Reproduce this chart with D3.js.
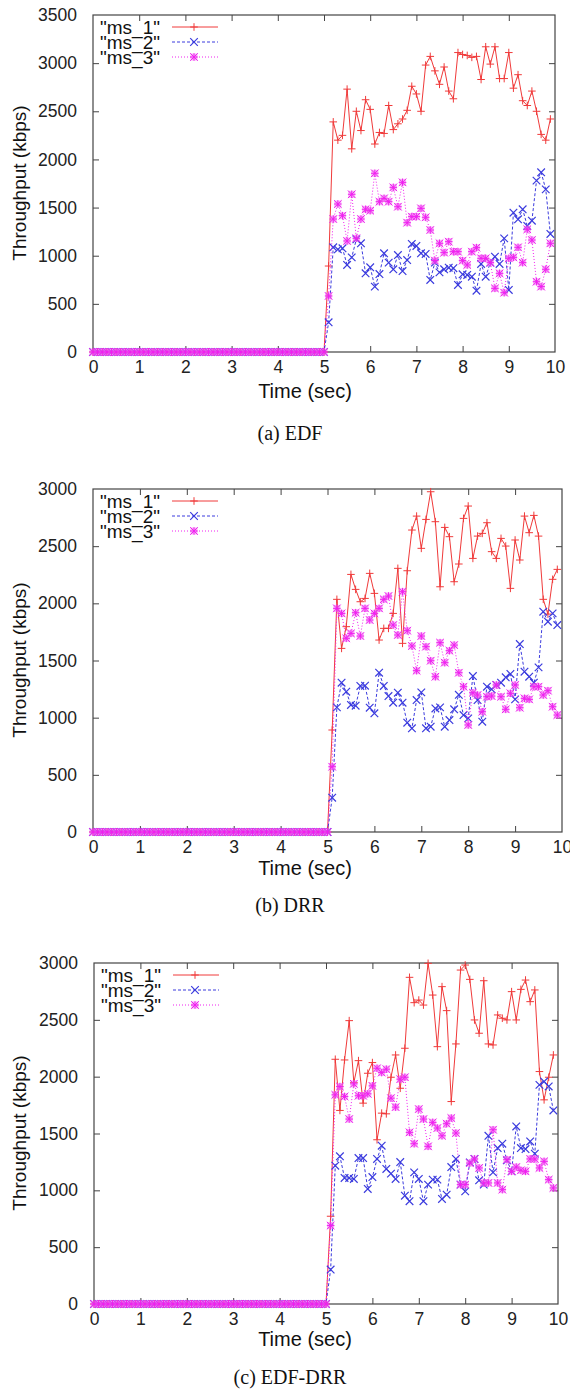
<!DOCTYPE html>
<html><head><meta charset="utf-8">
<script src="https://cdn.jsdelivr.net/npm/d3@7"></script>
<style>body{margin:0;background:#fff}svg{display:block}</style>
</head><body>
<svg id="chart" width="570" height="1394"></svg>
<script>
// ---------------- DATA ----------------
const times = [0,0.1,0.2,0.3,0.4,0.5,0.6,0.7,0.8,0.9,1,1.1,1.2,1.3,1.4,1.5,1.6,1.7,1.8,1.9,2,2.1,2.2,2.3,2.4,2.5,2.6,2.7,2.8,2.9,3,3.1,3.2,3.3,3.4,3.5,3.6,3.7,3.8,3.9,4,4.1,4.2,4.3,4.4,4.5,4.6,4.7,4.8,4.9,5,5.1,5.2,5.3,5.4,5.5,5.6,5.7,5.8,5.9,6,6.1,6.2,6.3,6.4,6.5,6.6,6.7,6.8,6.9,7,7.1,7.2,7.3,7.4,7.5,7.6,7.7,7.8,7.9,8,8.1,8.2,8.3,8.4,8.5,8.6,8.7,8.8,8.9,9,9.1,9.2,9.3,9.4,9.5,9.6,9.7,9.8,9.9];
// throughput is 0 kbps for t = 0.0 .. 5.0 (51 samples) in every series
const idle = [0,0,0,0,0,0,0,0,0,0,0,0,0,0,0,0,0,0,0,0,0,0,0,0,0,0,0,0,0,0,0,0,0,0,0,0,0,0,0,0,0,0,0,0,0,0,0,0,0,0,0];

const seriesNames = ['"ms_1"', '"ms_2"', '"ms_3"'];
const panelCaptions = ["(a)  EDF", "(b)  DRR", "(c)  EDF-DRR"];
const yMaxes = [3500, 3000, 3000];
const xTickValues = [0,1,2,3,4,5,6,7,8,9,10];
const xAxisTitle = "Time (sec)";
const yAxisTitle = "Throughput (kbps)";

const edf_ms1 = idle.concat([893,2390,2200,2250,2730,2110,2500,2300,2620,2520,2160,2280,2270,2560,2310,2370,2420,2510,2760,2680,2500,2980,3070,2920,2780,2960,2710,2630,3110,3090,3080,3060,3070,2830,3170,2990,3170,2840,2840,3110,2740,2880,2610,2560,2710,2500,2260,2200,2420]);
const edf_ms2 = idle.concat([308,1087,1066,1077,904,983,1170,1129,817,880,679,810,1025,928,859,1007,841,955,1122,1101,1025,1018,748,928,827,859,876,870,696,807,800,782,637,914,782,928,990,914,1180,644,1447,1378,1482,1309,1364,1780,1866,1689,1226]);
const edf_ms3 = idle.concat([582,1381,1537,1416,1153,1638,1181,1381,1482,1468,1856,1561,1596,1561,1710,1509,1762,1343,1406,1406,1492,1399,1267,949,1129,1032,1146,1042,1042,949,904,1042,1084,973,973,928,661,817,616,973,983,1087,928,1274,1163,730,679,859,1129]);

const drr_ms1 = idle.concat([892,2035,1606,1796,2253,2122,2014,2043,2262,2087,1679,1781,1781,1912,2306,1650,2285,2641,2763,2481,2734,2976,2714,2145,2664,2583,2189,2344,2743,2851,2393,2588,2612,2705,2452,2393,2568,2501,2131,2554,2379,2763,2618,2769,2588,2035,1906,2210,2297]);
const drr_ms2 = idle.concat([300,1090,1306,1227,1111,1105,1277,1280,1087,1038,1393,1277,1189,1131,1218,1131,956,907,1154,1221,907,921,1081,1090,921,979,1073,1200,1023,994,1364,1154,965,1271,1248,1286,1306,1353,1382,1160,1644,1402,1358,1306,1440,1927,1839,1912,1810]);
const drr_ms3 = idle.concat([571,1956,1912,1694,1737,1918,1714,1956,1854,1912,1956,2035,2064,1810,1723,2102,1761,1627,1411,1714,1621,1498,1358,1656,1481,1586,1635,1393,1271,936,1218,1198,1052,1183,1189,1286,1183,1073,1213,1286,1087,1169,1160,1271,1271,1198,1236,1096,1023]);

const edfdrr_ms1 = idle.concat([772,2153,1703,2147,2493,1948,2141,1767,2030,2124,1445,1679,1673,1995,2191,1898,2250,2874,2651,2674,2630,2997,2718,2264,2792,2581,1781,2288,2938,2982,2856,2499,2382,2844,2288,2279,2543,2514,2499,2748,2499,2768,2850,2660,2763,2045,1796,1995,2191]);
const edfdrr_ms2 = idle.concat([303,1217,1299,1109,1109,1100,1284,1284,1012,1117,1276,1393,1188,1147,1100,1249,953,904,1158,1100,904,1050,1094,1094,924,962,1205,1276,1050,991,1246,1276,1088,1050,1480,1158,1372,1410,1264,1167,1562,1372,1363,1430,1322,1928,1957,1914,1703]);
const edfdrr_ms3 = idle.concat([690,1840,1913,1826,1627,1937,1832,1832,1849,1919,2074,2036,2066,1811,1732,1978,1995,1510,1410,1715,1627,1387,1598,1548,1480,1586,1636,1504,1050,1050,1240,1276,1197,1065,1065,1533,1065,1006,1270,1167,1205,1176,1167,1276,1276,1197,1255,1094,1021]);

// ---------------- LAYOUT / STYLE ----------------
const panels = [
  {series:[edf_ms1, edf_ms2, edf_ms3], L:93, R:555, T:15, B:352, yTitleY:183, xTitleDy:46, capDy:88},
  {series:[drr_ms1, drr_ms2, drr_ms3], L:93, R:562, T:489, B:832, yTitleY:660, xTitleDy:43, capDy:80},
  {series:[edfdrr_ms1, edfdrr_ms2, edfdrr_ms3], L:94, R:558, T:963, B:1304, yTitleY:1133, xTitleDy:42, capDy:80}
];
const styles = [
  {color:"#f03a3a", dash:null, width:1, marker:"plus"},
  {color:"#3b3bde", dash:"3,2", width:1, marker:"cross"},
  {color:"#f020f0", dash:"1,2", width:1, marker:"star"}
];
const sansFont = "'Liberation Sans', Arial, Helvetica, sans-serif";
const serifFont = "'Liberation Serif', 'Times New Roman', serif";

const svg = d3.select("#chart");
svg.append("rect").attr("width",570).attr("height",1394).attr("fill","#fff");

function drawMarker(g, type, cx, cy, color){
  const s = 3.8;
  if(type==="plus"){
    g.append("path").attr("d",`M${cx-s},${cy}H${cx+s}M${cx},${cy-s}V${cy+s}`)
      .attr("stroke",color).attr("stroke-width",1).attr("fill","none");
  } else if(type==="cross"){
    g.append("path").attr("d",`M${cx-s},${cy-s}L${cx+s},${cy+s}M${cx-s},${cy+s}L${cx+s},${cy-s}`)
      .attr("stroke",color).attr("stroke-width",1.2).attr("fill","none");
  } else {
    g.append("rect").attr("x",cx-3.5).attr("y",cy-3.5).attr("width",7).attr("height",7)
      .attr("fill","#f070f0").attr("opacity",0.55);
    g.append("path").attr("d",`M${cx-s},${cy-s}L${cx+s},${cy+s}M${cx-s},${cy+s}L${cx+s},${cy-s}M${cx-s},${cy}H${cx+s}M${cx},${cy-s}V${cy+s}`)
      .attr("stroke",color).attr("stroke-width",1).attr("fill","none");
  }
}

panels.forEach((p, pi) => {
  const g = svg.append("g");
  const x = d3.scaleLinear().domain([0,10]).range([p.L, p.R]);
  const yMax = yMaxes[pi];
  const y = d3.scaleLinear().domain([0,yMax]).range([p.B, p.T]);
  const yTicks = d3.range(0, yMax+1, 500);

  const ax = g.append("g").attr("transform",`translate(0,${p.B})`)
    .call(d3.axisBottom(x).tickValues(xTickValues).tickFormat(d3.format("d")).tickSize(-6).tickPadding(9));
  const axT = g.append("g").attr("transform",`translate(0,${p.T})`)
    .call(d3.axisTop(x).tickValues(xTickValues).tickFormat("").tickSize(-6));
  const ay = g.append("g").attr("transform",`translate(${p.L},0)`)
    .call(d3.axisLeft(y).tickValues(yTicks).tickFormat(d3.format("d")).tickSize(-6).tickPadding(16));
  const ayR = g.append("g").attr("transform",`translate(${p.R},0)`)
    .call(d3.axisRight(y).tickValues(yTicks).tickFormat("").tickSize(-6));
  [ax,axT,ay,ayR].forEach(a=>{
    a.select(".domain").remove();
    a.selectAll(".tick line").attr("stroke","#444");
    a.selectAll(".tick text").attr("font-family",sansFont).attr("font-size",17.5).attr("fill","#222");
  });
  ax.selectAll(".tick").filter(d=>d===0||d===10).select("line").remove();
  axT.selectAll(".tick").filter(d=>d===0||d===10).select("line").remove();
  ay.selectAll(".tick").filter(d=>d===0||d===yMax).select("line").remove();
  ayR.selectAll(".tick").filter(d=>d===0||d===yMax).select("line").remove();

  g.append("rect").attr("x",p.L).attr("y",p.T).attr("width",p.R-p.L).attr("height",p.B-p.T)
    .attr("fill","none").attr("stroke","#444").attr("stroke-width",1.2);

  p.series.forEach((vals, si) => {
    const st = styles[si];
    const line = d3.line().x((d,i)=>x(times[i])).y(d=>y(d));
    g.append("path").datum(vals).attr("d",line).attr("fill","none")
      .attr("stroke",st.color).attr("stroke-width",st.width)
      .attr("stroke-dasharray",st.dash);
    const mg = g.append("g");
    vals.forEach((v,i)=>drawMarker(mg, st.marker, x(times[i]), y(v), st.color));
  });

  // legend (key, top-left)
  const lg = g.append("g");
  seriesNames.forEach((name, si) => {
    const st = styles[si];
    const ly = p.T + 12 + si*15;
    lg.append("text").attr("x",p.L+67).attr("y",ly).attr("dy","0.36em")
      .attr("text-anchor","end").attr("font-family",sansFont).attr("font-size",19).attr("fill","#111")
      .text(name);
    lg.append("line").attr("x1",p.L+79).attr("x2",p.L+125).attr("y1",ly).attr("y2",ly)
      .attr("stroke",st.color).attr("stroke-width",1).attr("stroke-dasharray",st.dash);
    drawMarker(lg, st.marker, p.L+101, ly, st.color);
  });

  // axis titles
  g.append("text").attr("x",305).attr("y",p.B+p.xTitleDy).attr("text-anchor","middle")
    .attr("font-family",sansFont).attr("font-size",20).attr("fill","#111").text(xAxisTitle);
  g.append("text").attr("transform",`translate(26,${p.yTitleY}) rotate(-90)`)
    .attr("text-anchor","middle").attr("font-family",sansFont).attr("font-size",19).attr("fill","#111")
    .text(yAxisTitle);
  // caption
  g.append("text").attr("x",290).attr("y",p.B+p.capDy).attr("text-anchor","middle")
    .attr("font-family",serifFont).attr("font-size",20).attr("fill","#111").text(panelCaptions[pi]);
});
</script>
</body></html>
